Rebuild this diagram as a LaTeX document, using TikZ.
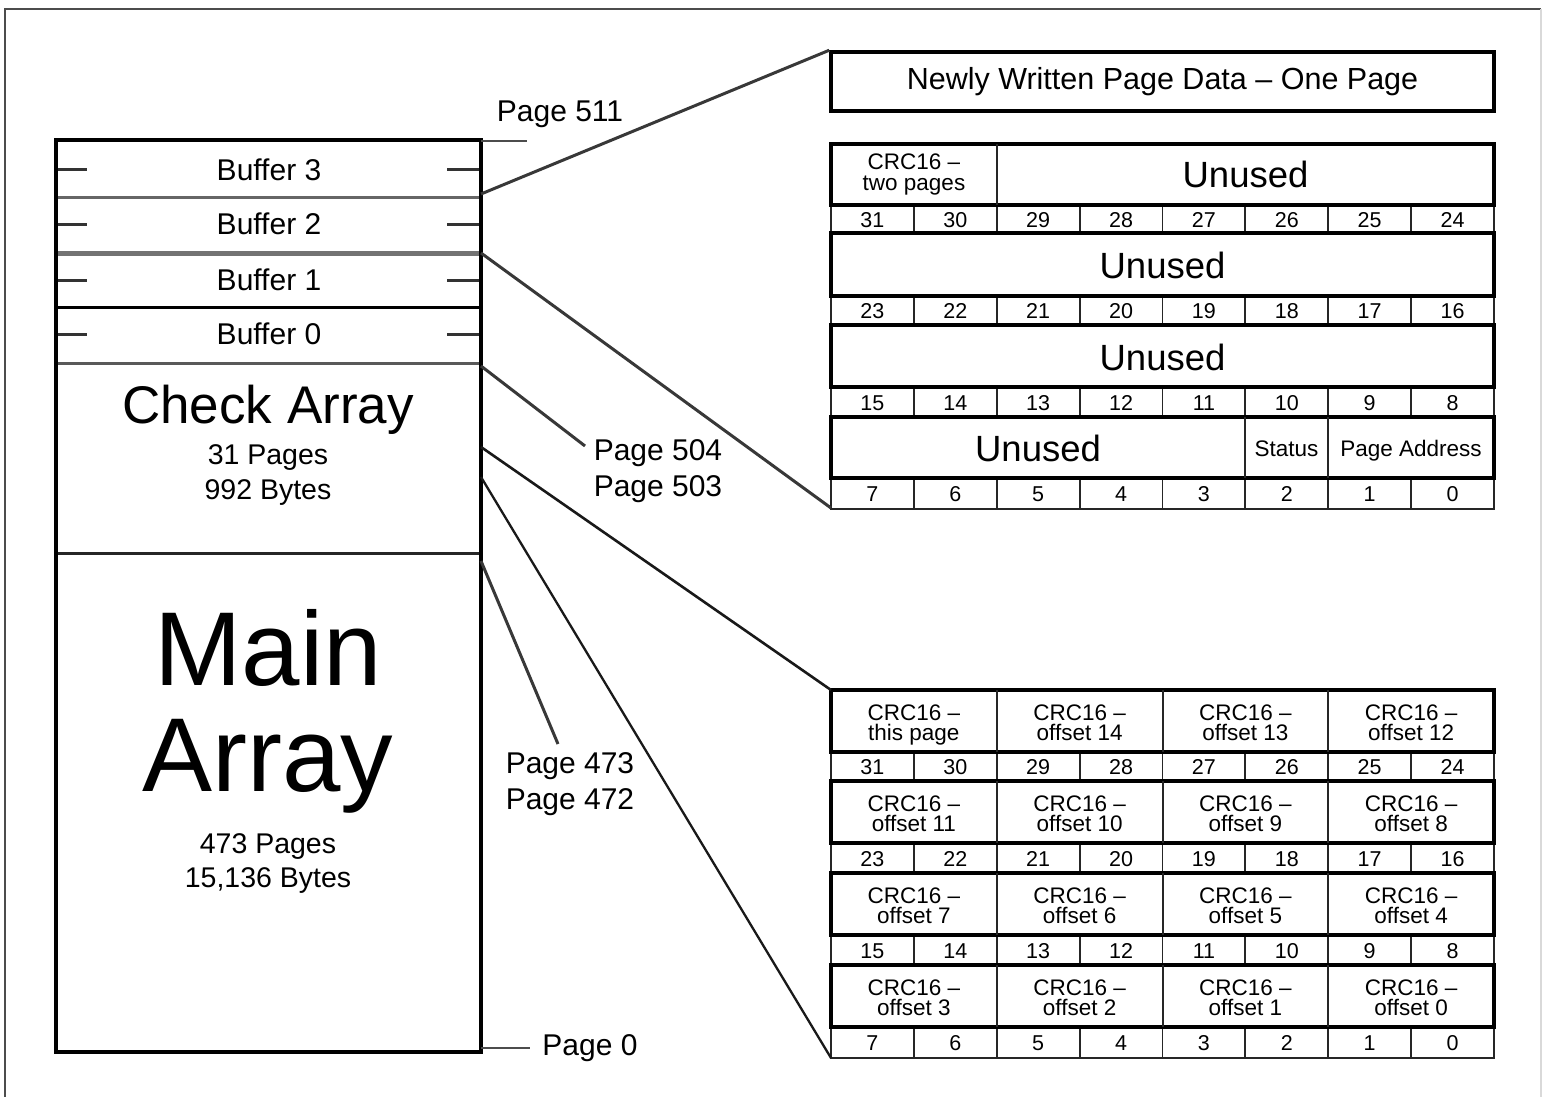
\documentclass[tikz,border=0pt]{standalone}
\usepackage{fontspec}
\setmainfont{Liberation Sans}
\begin{document}
\begin{tikzpicture}[x=1pt,y=-1pt,
  lbl/.style={inner sep=0pt, align=center, font=\fontsize{30}{36}\selectfont},
  cell/.style={inner sep=0pt, anchor=base, font=\fontsize{22.5}{20.5}\selectfont},
  num/.style={inner sep=0pt, anchor=base, font=\fontsize{21.5}{21}\selectfont},
  big/.style={inner sep=0pt, font=\fontsize{36.5}{40}\selectfont},
  fieldrow/.style={line width=3.5pt, black},
  numrow/.style={line width=1.8pt, black!85},
  conn/.style={line width=3pt, black!78},
  tick/.style={line width=3pt, black!80},
  leader/.style={line width=2pt, black!70}]
\useasboundingbox (0,0) rectangle (1543,1097);
% outer frame
\draw[black!70, line width=2pt] (5,1097) -- (5,9) -- (1541,9);
\draw[black!15, line width=1.5pt] (1541,9) -- (1541,1097);

% ---------- left memory map ----------
\draw[black!60, line width=3pt] (56,198) -- (481,198);
\draw[black!55, line width=5pt] (56,253) -- (481,253);
\draw[black, line width=3pt] (56,307) -- (481,307);
\draw[black!65, line width=3pt] (56,363) -- (481,363);
\draw[black!85, line width=3pt] (56,553) -- (481,553);
\foreach \y in {170,224,280,334} {
  \draw[tick] (58,\y) -- (87,\y);
  \draw[tick] (447,\y) -- (479,\y);
}
\draw[line width=4pt] (56,140) rectangle (481,1052);
\node[lbl] (b3) at (269,170) {Buffer 3};
\node[lbl] (b2) at (269,224) {Buffer 2};
\node[lbl] (b1) at (269,280) {Buffer 1};
\node[lbl] (b0) at (269,334) {Buffer 0};
\node[inner sep=0pt, font=\fontsize{53}{56}\selectfont] (chk) at (268,410) {Check Array};
\node[lbl, font=\fontsize{28.5}{35}\selectfont] (chkn) at (268,475) {31 Pages\\992 Bytes};
\node[inner sep=0pt, font=\fontsize{105}{110}\selectfont] (mainw) at (268,648) {Main};
\node[inner sep=0pt, font=\fontsize{105}{110}\selectfont] (arrw) at (268,766) {Array};
\node[lbl, font=\fontsize{28.5}{34}\selectfont] (mainn) at (268,864) {473 Pages\\15,136 Bytes};

% anchor points on the right side of the map
\coordinate (p511) at (481,141);
\coordinate (b3bot) at (481,194);
\coordinate (b2bot) at (481,253);
\coordinate (b0bot) at (481,366);
\coordinate (ca1) at (481,447);
\coordinate (ca2) at (481,477);
\coordinate (ma1) at (481,561);
\coordinate (p0) at (481,1048);

% page labels
\node[lbl] (l511) at (560,114) {Page 511};
\node[lbl] (l504) at (658,471) {Page 504\\Page 503};
\node[lbl] (l473) at (570,784) {Page 473\\Page 472};
\node[lbl] (l0) at (590,1048) {Page 0};
\coordinate (e511) at (527,141);
\coordinate (e504) at (585,446);
\coordinate (e473) at (558,744);
\coordinate (e0) at (530,1048);
\draw[leader] (p511) -- (e511);
\draw[leader] (p0) -- (e0);

% ---------- newly written page box ----------
\node[draw, line width=3.5pt, minimum width=663pt, minimum height=59pt, inner sep=0pt,
      font=\fontsize{30.5}{34}\selectfont] (nw) at (1162.5,81.5) {Newly Written Page Data -- One Page};

% ---------- top table ----------
\foreach \k/\ya/\yb/\yc in {0/144/205/233, 1/233/296/325, 2/325/387/417, 3/417/478/509} {
  \draw[numrow] (831,\yb) rectangle (1494,\yc);
  \foreach \c in {1,...,7} {
    \pgfmathsetmacro\xx{831+\c*82.875}
    \draw[numrow] (\xx,\yb) -- (\xx,\yc);
  }
  \foreach \c in {0,...,7} {
    \pgfmathtruncatemacro\n{31-8*\k-\c}
    \pgfmathsetmacro\xx{831+(\c+0.5)*82.875}
    \pgfmathsetmacro\yy{(\yb+\yc)/2+8}
    \node[num] (tn\n) at (\xx,\yy) {\n};
  }
  \draw[fieldrow] (831,\ya) rectangle (1494,\yb);
}
\draw[numrow] (997,144) -- (997,205);
\draw[numrow] (1245,417) -- (1245,478);
\draw[numrow] (1328,417) -- (1328,478);
\node[cell] (tcrc) at (914,170) {CRC16 --};
\node[cell] (tcrcb) at (914,190) {two pages};
\node[big] (tu1) at (1245.5,174) {Unused};
\node[big] (tu2) at (1162.5,265) {Unused};
\node[big] (tu3) at (1162.5,357) {Unused};
\node[big] (tu4) at (1038,448) {Unused};
\node[cell] (tst) at (1286.5,456) {Status};
\node[cell] (tpa) at (1411,456) {Page Address};
\coordinate (tbl) at (831,508);

% ---------- bottom table ----------
\foreach \k/\ya/\yb/\yc in {0/690/752/781, 1/781/843/873, 2/873/935/965, 3/965/1027/1058} {
  \draw[numrow] (831,\yb) rectangle (1494,\yc);
  \foreach \c in {1,...,7} {
    \pgfmathsetmacro\xx{831+\c*82.875}
    \draw[numrow] (\xx,\yb) -- (\xx,\yc);
  }
  \foreach \c in {0,...,7} {
    \pgfmathtruncatemacro\n{31-8*\k-\c}
    \pgfmathsetmacro\xx{831+(\c+0.5)*82.875}
    \pgfmathsetmacro\yy{(\yb+\yc)/2+8}
    \node[num] (bn\n) at (\xx,\yy) {\n};
  }
  \draw[fieldrow] (831,\ya) rectangle (1494,\yb);
  \foreach \xx in {997,1163,1328} {
    \draw[numrow] (\xx,\ya) -- (\xx,\yb);
  }
}
\foreach \lab [count=\i from 0] in {this page,offset 14,offset 13,offset 12,
                                    offset 11,offset 10,offset 9,offset 8,
                                    offset 7,offset 6,offset 5,offset 4,
                                    offset 3,offset 2,offset 1,offset 0} {
  \pgfmathtruncatemacro\r{int(\i/4)}
  \pgfmathtruncatemacro\c{mod(\i,4)}
  \pgfmathsetmacro\xx{831+(\c+0.5)*165.75}
  \pgfmathsetmacro\yy{720+\r*91.7}
  \node[cell] (crc\i) at (\xx,\yy) {CRC16 --};
  \node[cell] (crcb\i) at (\xx,\yy+20) {\lab};
}
\coordinate (btl) at (831,690);
\coordinate (bbl) at (831,1058);

% ---------- connectors ----------
\draw[conn] (b3bot) -- (nw.north west);
\draw[conn] (b2bot) -- (tbl);
\draw[conn] (b0bot) -- (e504);
\draw[conn, black!90, line width=2.6pt] (ca1) -- (btl);
\draw[conn, black!90, line width=2.3pt] (ca2) -- (bbl);
\draw[conn] (ma1) -- (e473);
\end{tikzpicture}
\end{document}
